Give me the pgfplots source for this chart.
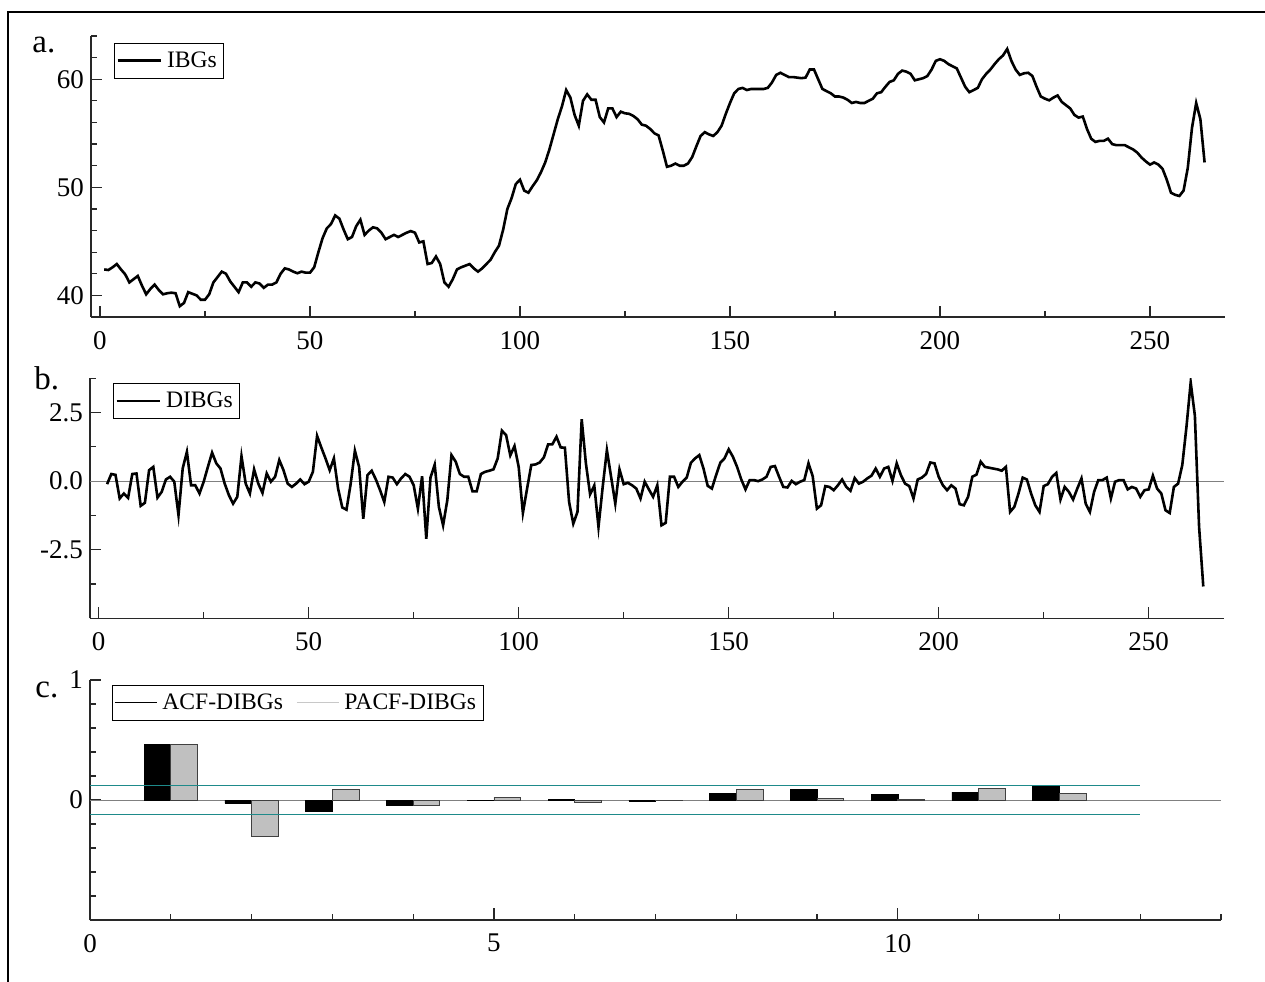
\documentclass[border=0pt]{standalone}
\usepackage{fontspec}
\setmainfont{Liberation Serif}
\usepackage{pgfplots}
\usepackage{pgfplotstable}
\pgfplotsset{compat=1.18}
\definecolor{teal2}{RGB}{30,138,138}
\definecolor{lgray}{RGB}{192,192,192}
\definecolor{lgline}{RGB}{200,200,200}
\definecolor{spine}{RGB}{40,40,40}

\pgfplotstableread{
x y
1 42.4
2 42.35
3 42.6
4 42.9
5 42.4
6 41.95
7 41.2
8 41.5
9 41.8
10 40.9
11 40.1
12 40.6
13 41.0
14 40.5
15 40.1
16 40.2
17 40.25
18 40.2
19 39.0
20 39.3
21 40.3
22 40.15
23 40.0
24 39.6
25 39.6
26 40.1
27 41.2
28 41.7
29 42.2
30 42.0
31 41.3
32 40.8
33 40.3
34 41.2
35 41.2
36 40.8
37 41.2
38 41.1
39 40.7
40 41.0
41 41.0
42 41.2
43 42.0
44 42.5
45 42.4
46 42.2
47 42.05
48 42.2
49 42.1
50 42.1
51 42.6
52 44.0
53 45.3
54 46.2
55 46.6
56 47.4
57 47.1
58 46.1
59 45.2
60 45.4
61 46.4
62 47.0
63 45.6
64 46.0
65 46.3
66 46.2
67 45.8
68 45.2
69 45.4
70 45.6
71 45.4
72 45.6
73 45.8
74 45.95
75 45.8
76 44.9
77 45.0
78 42.9
79 43.0
80 43.6
81 42.9
82 41.2
83 40.8
84 41.5
85 42.4
86 42.6
87 42.75
88 42.9
89 42.5
90 42.2
91 42.5
92 42.9
93 43.3
94 44.0
95 44.6
96 46.1
97 48.0
98 49.0
99 50.3
100 50.7
101 49.7
102 49.5
103 50.1
104 50.65
105 51.4
106 52.3
107 53.5
108 54.9
109 56.3
110 57.5
111 59.0
112 58.3
113 56.7
114 55.7
115 58.0
116 58.6
117 58.1
118 58.1
119 56.5
120 56.0
121 57.3
122 57.3
123 56.5
124 57.0
125 56.85
126 56.8
127 56.6
128 56.3
129 55.8
130 55.7
131 55.4
132 55.0
133 54.8
134 53.4
135 51.9
136 52.0
137 52.2
138 52.0
139 52.0
140 52.2
141 52.8
142 53.8
143 54.75
144 55.1
145 54.9
146 54.75
147 55.1
148 55.7
149 56.8
150 57.8
151 58.7
152 59.1
153 59.2
154 59.0
155 59.1
156 59.1
157 59.1
158 59.1
159 59.2
160 59.7
161 60.4
162 60.6
163 60.4
164 60.2
165 60.2
166 60.15
167 60.1
168 60.15
169 60.9
170 60.9
171 60.0
172 59.1
173 58.9
174 58.7
175 58.4
176 58.4
177 58.3
178 58.1
179 57.8
180 57.9
181 57.8
182 57.8
183 58.0
184 58.2
185 58.7
186 58.8
187 59.3
188 59.75
189 59.9
190 60.5
191 60.8
192 60.7
193 60.5
194 59.9
195 60.0
196 60.1
197 60.3
198 60.9
199 61.7
200 61.85
201 61.7
202 61.4
203 61.2
204 61.0
205 60.15
206 59.3
207 58.8
208 59.0
209 59.2
210 60.0
211 60.5
212 60.9
213 61.4
214 61.85
215 62.2
216 62.8
217 61.7
218 60.9
219 60.4
220 60.55
221 60.6
222 60.3
223 59.3
224 58.4
225 58.2
226 58.05
227 58.3
228 58.5
229 57.9
230 57.6
231 57.3
232 56.7
233 56.45
234 56.55
235 55.4
236 54.5
237 54.2
238 54.3
239 54.3
240 54.5
241 54.0
242 53.9
243 53.9
244 53.9
245 53.7
246 53.5
247 53.2
248 52.75
249 52.4
250 52.1
251 52.3
252 52.1
253 51.7
254 50.7
255 49.5
256 49.3
257 49.2
258 49.7
259 51.8
260 55.5
261 57.8
262 56.3
263 52.3
}\ibgs

\pgfplotstableread{
x y
2 -0.11
3 0.26
4 0.23
5 -0.63
6 -0.45
7 -0.61
8 0.26
9 0.28
10 -0.9
11 -0.79
12 0.40
13 0.52
14 -0.6
15 -0.39
16 0.06
17 0.16
18 -0.02
19 -1.24
20 0.46
21 1.07
22 -0.15
23 -0.15
24 -0.45
25 -0.02
26 0.52
27 1.04
28 0.65
29 0.46
30 -0.09
31 -0.51
32 -0.82
33 -0.57
34 0.91
35 -0.09
36 -0.45
37 0.43
38 -0.09
39 -0.43
40 0.28
41 -0.02
42 0.16
43 0.77
44 0.40
45 -0.09
46 -0.21
47 -0.09
48 0.06
49 -0.11
50 -0.02
51 0.34
52 1.65
53 1.23
54 0.83
55 0.40
56 0.83
57 -0.27
58 -0.96
59 -1.04
60 -0.09
61 1.11
62 0.52
63 -1.37
64 0.22
65 0.38
66 0.06
67 -0.33
68 -0.76
69 0.16
70 0.13
71 -0.11
72 0.10
73 0.26
74 0.16
75 -0.15
76 -1.0
77 0.18
78 -2.1
79 0.13
80 0.60
81 -0.94
82 -1.61
83 -0.70
84 0.95
85 0.71
86 0.26
87 0.16
88 0.16
89 -0.37
90 -0.37
91 0.26
92 0.34
93 0.38
94 0.43
95 0.83
96 1.84
97 1.68
98 0.94
99 1.28
100 0.52
101 -1.16
102 -0.27
103 0.59
104 0.61
105 0.68
106 0.87
107 1.34
108 1.34
109 1.62
110 1.23
111 1.22
112 -0.76
113 -1.55
114 -1.12
115 2.26
116 0.65
117 -0.48
118 -0.16
119 -1.67
120 -0.21
121 1.13
122 0.16
123 -0.82
124 0.43
125 -0.11
126 -0.06
127 -0.15
128 -0.27
129 -0.63
130 -0.02
131 -0.30
132 -0.57
133 -0.15
134 -1.61
135 -1.52
136 0.16
137 0.16
138 -0.21
139 -0.02
140 0.13
141 0.67
142 0.83
143 0.95
144 0.46
145 -0.17
146 -0.27
147 0.22
148 0.67
149 0.83
150 1.16
151 0.89
152 0.52
153 0.06
154 -0.30
155 0.04
156 0.04
157 0.0
158 0.06
159 0.16
160 0.52
161 0.55
162 0.16
163 -0.21
164 -0.23
165 0.01
166 -0.11
167 -0.02
168 0.04
169 0.65
170 0.18
171 -1.0
172 -0.88
173 -0.18
174 -0.21
175 -0.33
176 -0.15
177 0.06
178 -0.21
179 -0.35
180 0.11
181 -0.09
182 -0.02
183 0.10
184 0.20
185 0.46
186 0.16
187 0.46
188 0.52
189 0.01
190 0.65
191 0.22
192 -0.09
193 -0.18
194 -0.63
195 0.06
196 0.13
197 0.26
198 0.68
199 0.65
200 0.16
201 -0.15
202 -0.33
203 -0.15
204 -0.27
205 -0.84
206 -0.88
207 -0.57
208 0.16
209 0.24
210 0.71
211 0.52
212 0.49
213 0.46
214 0.43
215 0.38
216 0.52
217 -1.12
218 -0.94
219 -0.45
220 0.13
221 0.06
222 -0.45
223 -0.88
224 -1.12
225 -0.18
226 -0.11
227 0.16
228 0.30
229 -0.67
230 -0.21
231 -0.39
232 -0.67
233 -0.27
234 0.10
235 -0.82
236 -1.12
237 -0.39
238 0.04
239 0.04
240 0.13
241 -0.63
242 -0.02
243 0.04
244 0.04
245 -0.30
246 -0.21
247 -0.27
248 -0.57
249 -0.33
250 -0.30
251 0.20
252 -0.27
253 -0.45
254 -1.06
255 -1.16
256 -0.21
257 -0.09
258 0.59
259 1.99
260 3.60
261 2.38
262 -1.67
263 -3.84
}\dibgs

\pgfplotstableread{
lag acf pacf
1 0.465 0.465
2 -0.025 -0.305
3 -0.094 0.086
4 -0.044 -0.042
5 -0.003 0.025
6 0.005 -0.02
7 -0.01 -0.003
8 0.055 0.086
9 0.086 0.014
10 0.044 0.003
11 0.066 0.100
12 0.114 0.058
}\acf

\pgfplotsset{
  common/.style={
    scale only axis, anchor=south west,
    axis x line*=bottom, axis y line*=left,
    axis line style={-, spine, line width=0.6pt},
    tick align=inside,
    tick style={spine, line width=0.6pt},
    major tick length=5.5pt, minor tick length=3pt,
    ticklabel style={font=\fontsize{13.5}{16}\selectfont},
    xticklabel style={yshift=-3.5pt},
    /pgf/number format/assume math mode=true,
    legend cell align=left,
    legend style={draw=black, fill=white,
      font=\fontsize{11.8}{13}\selectfont, anchor=north west,
      inner xsep=1pt, inner ysep=1.5pt, nodes={inner sep=2.5pt}},
  },
}

\begin{document}
\begin{tikzpicture}
\path[use as bounding box] (0pt,0pt) rectangle (632.5pt,-490.5pt);
\draw[line width=1pt] (4pt,-495pt) -- (4pt,-6pt) -- (640pt,-6pt);

% panel a
\begin{axis}[common,
  at={(45.5pt,-158.5pt)}, width=567pt, height=140.5pt,
  xmin=-2.14, xmax=267.86, ymin=38, ymax=64,
  xtick={0,50,100,150,200,250}, minor xtick={25,75,125,175,225},
  ytick={40,50,60}, minor ytick={38,42,44,46,48,52,54,56,58,62,64},
  legend image code/.code={\draw[black, line width=1.3pt] (0pt,0pt) -- (21.5pt,0pt);},
  legend style={at={(0.0203,0.975)}},
]
\addplot[black, line width=1.3pt] table[x=x,y=y] {\ibgs};
\addlegendentry{IBGs}
\end{axis}
\node[anchor=base west, inner sep=0pt, font=\fontsize{16.5}{19}\selectfont] at (16pt,-26pt) {a.};

% panel b
\begin{axis}[common,
  at={(45pt,-309.15pt)}, width=567pt, height=120pt,
  xmin=-2.07, xmax=267.93, ymin=-5, ymax=3.75,
  xtick={0,50,100,150,200,250}, minor xtick={25,75,125,175,225},
  ytick={-2.5,0,2.5}, yticklabels={-2.5,0.0,2.5},
  minor ytick={-3.75,-1.25,1.25,3.75},
  legend image code/.code={\draw[black, line width=1.3pt] (0pt,0pt) -- (21.5pt,0pt);},
  legend style={at={(0.0203,0.98)}},
]
\addplot[gray, line width=0.5pt, forget plot] coordinates {(-2.07,0) (267.93,0)};
\addplot[black, line width=1.3pt] table[x=x,y=y] {\dibgs};
\addlegendentry{DIBGs}
\end{axis}
\node[anchor=base west, inner sep=0pt, font=\fontsize{16.5}{19}\selectfont] at (17pt,-194.5pt) {b.};

% panel c
\begin{axis}[common,
  at={(45pt,-460pt)}, width=565.5pt, height=120pt,
  xmin=0, xmax=14, ymin=-1, ymax=1,
  xtick={0,5,10}, minor xtick={1,2,3,4,6,7,8,9,11,12,13,14},
  ytick={0,1}, minor ytick={-0.8,-0.6,-0.4,-0.2,0.2,0.4,0.6,0.8},
  major x tick style={/pgfplots/major tick length=6pt},
  legend columns=2,
  legend image code/.code={\draw[#1] (0pt,0pt) -- (21pt,0pt);},
  legend style={at={(0.0195,0.979)}, /tikz/every even column/.append style={column sep=4pt}},
  unbounded coords=jump,
]
\addlegendimage{black, line width=0.5pt}
\addlegendentry{ACF-DIBGs}
\addlegendimage{lgline, line width=0.7pt}
\addlegendentry{PACF-DIBGs}
\addplot[gray, line width=0.5pt, forget plot] coordinates {(0,0) (14,0)};
\addplot[ybar, bar width=0.33, bar shift=-0.165, fill=black, draw=black, line width=0.3pt, forget plot] table[x=lag,y=acf] {\acf};
\addplot[ybar, bar width=0.33, bar shift=0.165, fill=lgray, draw=black!75, line width=0.4pt, forget plot] table[x=lag,y=pacf] {\acf};
\addplot[color=teal2, line width=0.85pt, forget plot] coordinates {(0,-0.121) (13,-0.121) (13,nan) (0,0.121) (13,0.121)};
\end{axis}
\node[anchor=base west, inner sep=0pt, font=\fontsize{16.5}{19}\selectfont] at (17.5pt,-348.5pt) {c.};
\end{tikzpicture}
\end{document}
